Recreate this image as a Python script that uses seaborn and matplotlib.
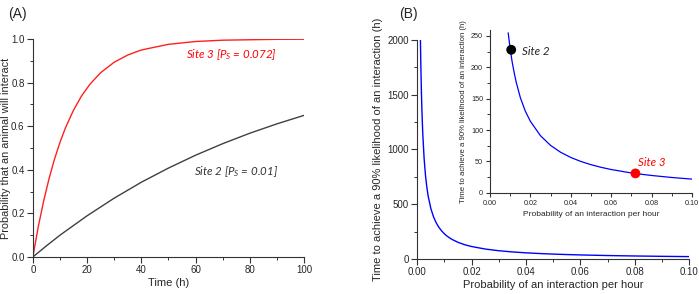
import numpy as np
import pandas as pd
import seaborn as sns
import matplotlib.pyplot as plt
from matplotlib.ticker import MultipleLocator

# Panel A: probability that an animal will interact vs time
time_h = [0, 2, 4, 6, 8, 10, 12, 15, 18, 21, 25, 30, 35, 40, 50, 60, 70, 80, 90, 100]
prob_site3 = [0.0, 0.139, 0.258, 0.361, 0.450, 0.526, 0.592, 0.674, 0.740, 0.792,
              0.846, 0.894, 0.927, 0.950, 0.976, 0.989, 0.995, 0.997, 0.999, 0.9994]
time_site2 = [0, 5, 10, 20, 30, 40, 50, 60, 70, 80, 90, 100]
prob_site2 = [0.0, 0.051, 0.100, 0.189, 0.270, 0.343, 0.408, 0.467, 0.520, 0.568, 0.611, 0.650]

# Panel B: time to reach 90 % likelihood vs hourly probability
p_hour = [0.00115, 0.0012, 0.0013, 0.0015, 0.0017, 0.002, 0.0025, 0.003, 0.0035, 0.004,
          0.005, 0.006, 0.007, 0.008, 0.009, 0.01, 0.011, 0.012, 0.013, 0.015, 0.0175,
          0.02, 0.025, 0.03, 0.035, 0.04, 0.045, 0.05, 0.055, 0.06, 0.07, 0.072, 0.08, 0.09, 0.10]
t90 = [2000, 1918, 1770, 1534, 1353, 1150, 920, 766, 657, 574,
       459, 383, 328, 287, 255, 229, 208, 191, 176, 152, 130,
       114, 91, 75.6, 64.6, 56.4, 50.0, 44.9, 40.7, 37.2, 31.7, 30.8, 27.7, 24.5, 21.9]

site_names = ['Site 2', 'Site 3']
site_p = [0.0105, 0.072]
site_t = [228, 31]
site_colors = ['black', 'red']

sns.set_style('ticks')
plt.rcParams['font.family'] = ['Liberation Sans', 'DejaVu Sans']
plt.rcParams['mathtext.fontset'] = 'custom'
plt.rcParams['mathtext.it'] = 'Lato:italic'
plt.rcParams['mathtext.rm'] = 'Lato:italic'

fig = plt.figure(figsize=(6.99, 2.94), dpi=100)

def style_axes(ax, lab, tick, major=4, minor=2.5):
    sns.despine(ax=ax)
    for s in ['left', 'bottom']:
        ax.spines[s].set_linewidth(0.8)
        ax.spines[s].set_color('#333333')
    ax.tick_params(which='major', direction='out', length=major, width=0.8, labelsize=tick, pad=2, color='#333333')
    ax.tick_params(which='minor', direction='out', length=minor, width=0.7, color='#333333')
    ax.xaxis.label.set_size(lab)
    ax.yaxis.label.set_size(lab)

# ---- Panel A
axA = fig.add_axes([0.047, 0.126, 0.388, 0.741])
sns.lineplot(x=time_h, y=prob_site3, color='#ff2020', lw=1.0, ax=axA)
sns.lineplot(x=time_site2, y=prob_site2, color='#404040', lw=1.0, ax=axA)
axA.set_xlim(0, 100)
axA.set_ylim(0, 1.0)
axA.xaxis.set_major_locator(MultipleLocator(20))
axA.xaxis.set_minor_locator(MultipleLocator(10))
axA.yaxis.set_major_locator(MultipleLocator(0.2))
axA.yaxis.set_minor_locator(MultipleLocator(0.1))
axA.set_xlabel('Time (h)', labelpad=2)
axA.set_ylabel('Probability that an animal will interact')
style_axes(axA, 8, 7)
axA.yaxis.label.set_size(7.8)
axA.yaxis.set_label_coords(-0.082, 0.5)
axA.text(56.5, 0.931, r'Site 3 [$P_S$ = 0.072]', color='red', fontsize=8.3,
         style='italic', family='Lato', va='center')
axA.text(59.4, 0.394, r'Site 2 [$P_S$ = 0.01]', color='#333333', fontsize=8.3,
         style='italic', family='Lato', va='center')
fig.text(0.011, 0.975, '(A)', fontsize=10, va='top')

# ---- Panel B main
axB = fig.add_axes([0.597, 0.119, 0.389, 0.745])
sns.lineplot(x=p_hour, y=t90, color='#0000ff', lw=1.0, ax=axB)
axB.set_xlim(0, 0.10)
axB.set_ylim(0, 2000)
axB.xaxis.set_major_locator(MultipleLocator(0.02))
axB.xaxis.set_minor_locator(MultipleLocator(0.01))
axB.yaxis.set_major_locator(MultipleLocator(500))
axB.yaxis.set_minor_locator(MultipleLocator(250))
axB.xaxis.set_major_formatter(lambda v, pos: f'{v:.2f}')
axB.set_xlabel('Probability of an interaction per hour', labelpad=2)
axB.set_ylabel('Time to achieve a 90% likelihood of an interaction (h)', labelpad=3)
style_axes(axB, 8, 7)
fig.text(0.571, 0.975, '(B)', fontsize=10, va='top')

# ---- Panel B inset
axI = fig.add_axes([0.701, 0.344, 0.289, 0.555])
inset = pd.DataFrame({'p': p_hour, 't': t90})
inset = inset[inset['t'] <= 262]
sns.lineplot(data=inset, x='p', y='t', color='#0000ff', lw=0.9, ax=axI)
sns.scatterplot(x=site_p, y=site_t, hue=site_names, palette=site_colors, s=50,
                edgecolor='none', legend=False, ax=axI, zorder=5)
axI.set_xlim(0, 0.10)
axI.set_ylim(0, 260)
axI.xaxis.set_major_locator(MultipleLocator(0.02))
axI.xaxis.set_minor_locator(MultipleLocator(0.01))
axI.yaxis.set_major_locator(MultipleLocator(50))
axI.yaxis.set_minor_locator(MultipleLocator(25))
axI.xaxis.set_major_formatter(lambda v, pos: f'{v:.2f}')
axI.set_xlabel('Probability of an interaction per hour', labelpad=3)
axI.set_ylabel('Time to achieve a 90% likelihood of an interaction (h)', labelpad=3)
style_axes(axI, 6, 5.2, major=3, minor=2)
axI.yaxis.label.set_size(5.6)
axI.text(0.0158, 226, 'Site 2', color='#222222', fontsize=8.3, style='italic',
         family='Lato', va='center')
axI.text(0.0733, 48, 'Site 3', color='red', fontsize=8.3, style='italic',
         family='Lato', va='center')

fig.savefig('out.png', dpi=100)
